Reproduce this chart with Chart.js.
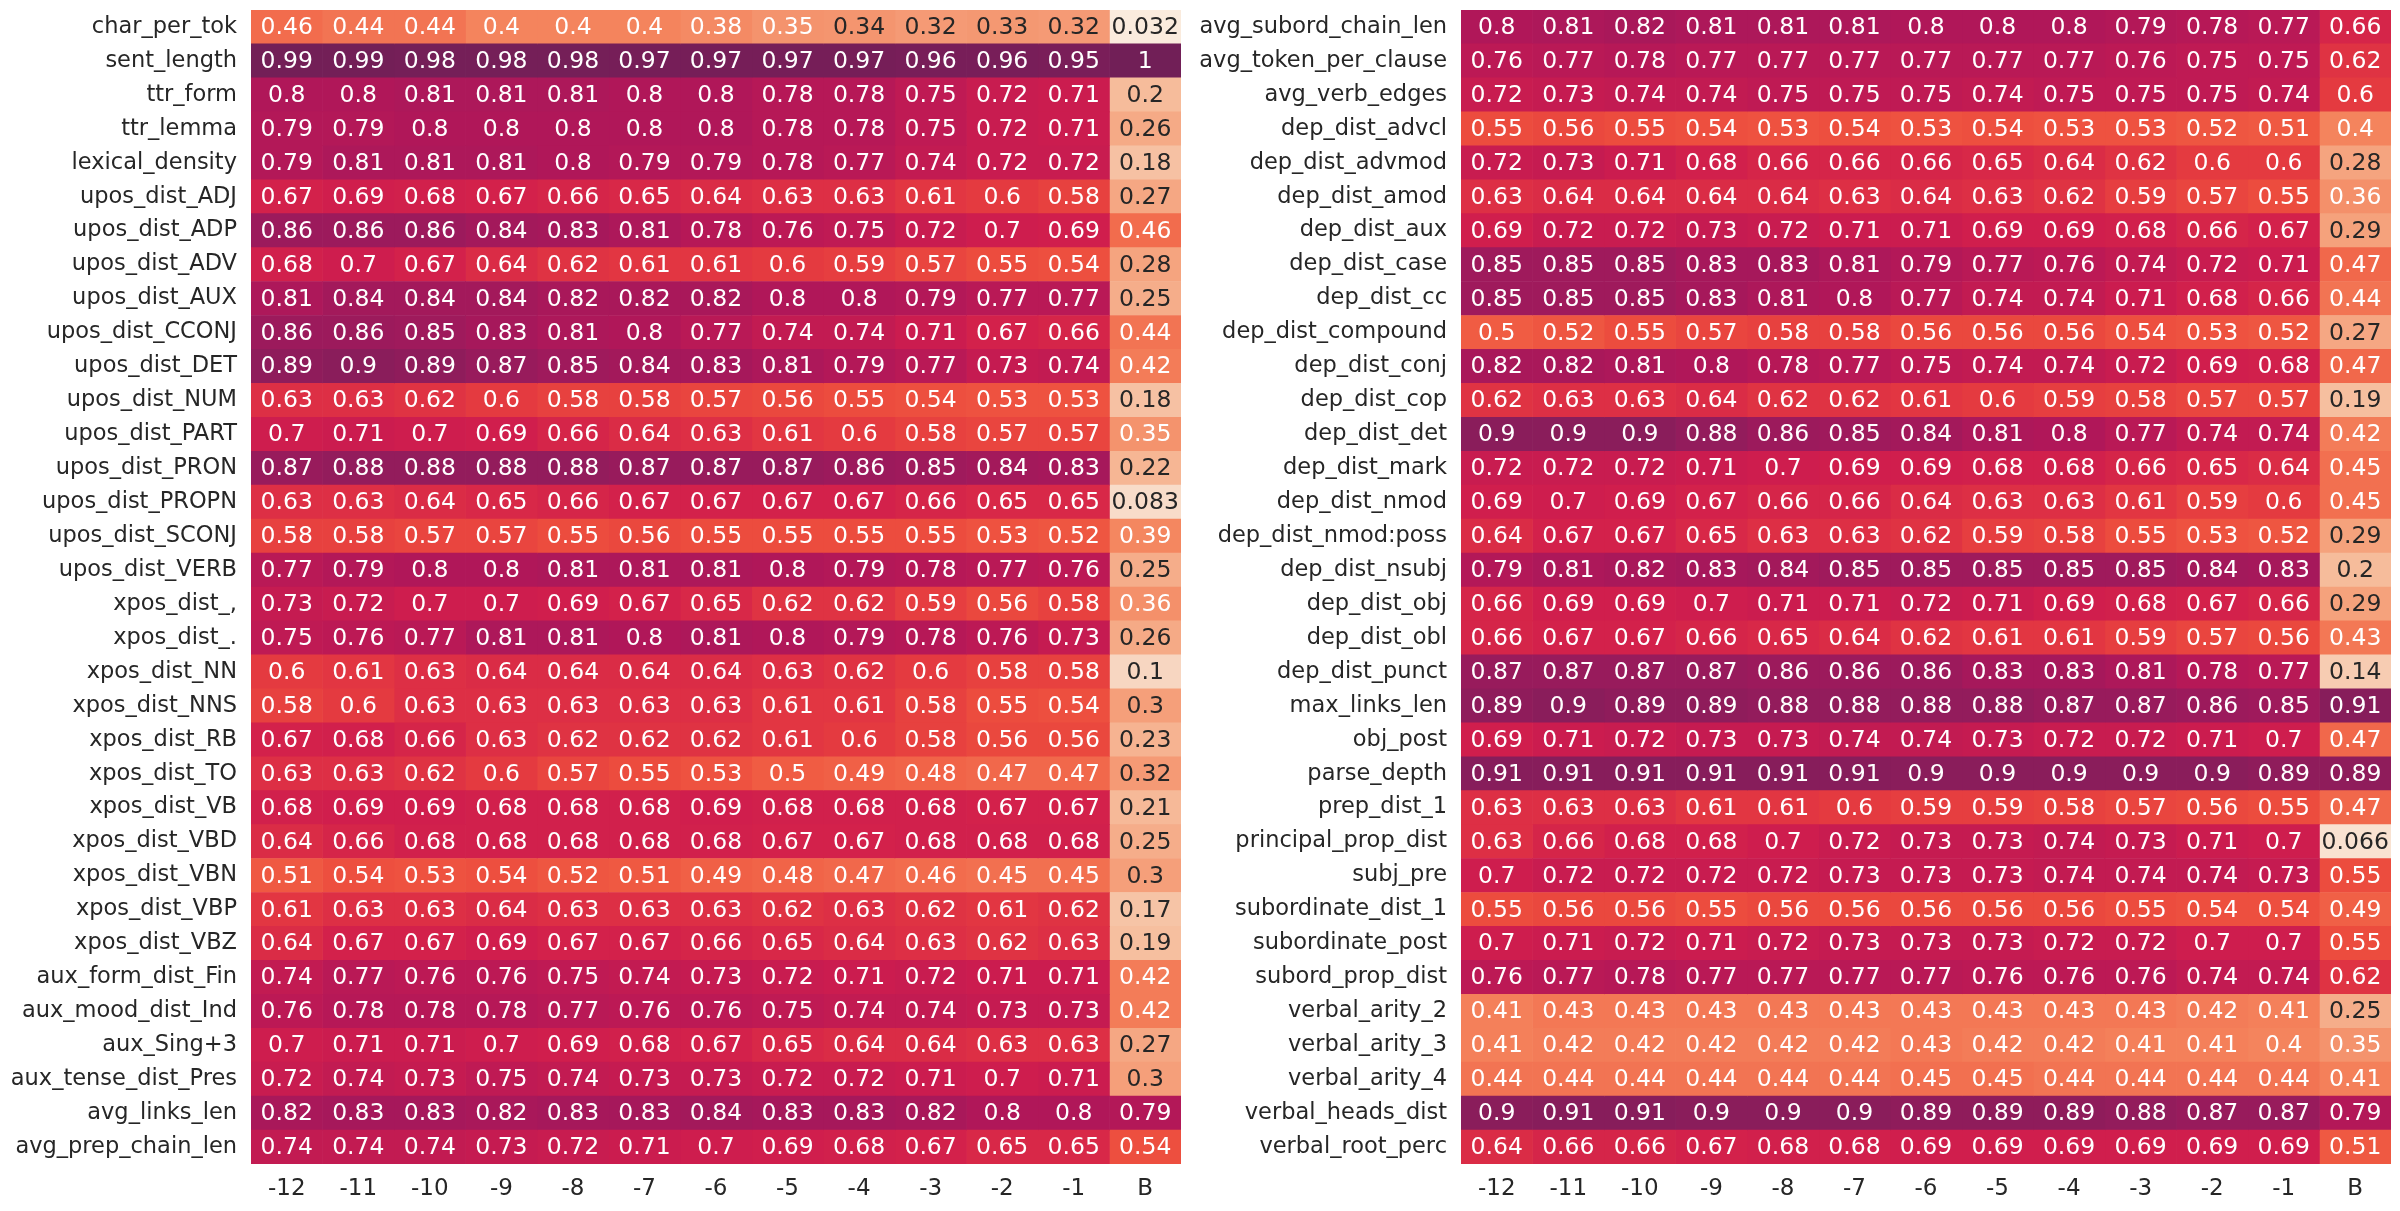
<!DOCTYPE html>
<html>
<head>
<meta charset="utf-8">
<script src="https://cdn.jsdelivr.net/npm/chart.js@4.4.0/dist/chart.umd.min.js"></script>
<style>
  html, body { margin: 0; padding: 0; background: #ffffff; }
  #wrap { position: relative; width: 2400px; height: 1211px; }
  canvas { position: absolute; top: 0; }
</style>
</head>
<body>
<div id="wrap">
  <canvas id="heatLeft" width="1200" height="1211" style="left:0px"></canvas>
  <canvas id="heatRight" width="1200" height="1211" style="left:1200px"></canvas>
</div>
<script>
// column labels (layer offsets and baseline)
const columns = ['-12', '-11', '-10', '-9', '-8', '-7', '-6', '-5', '-4', '-3', '-2', '-1', 'B'];

const leftFeatures = [
  'char_per_tok', 'sent_length', 'ttr_form', 'ttr_lemma', 'lexical_density',
  'upos_dist_ADJ', 'upos_dist_ADP', 'upos_dist_ADV', 'upos_dist_AUX', 'upos_dist_CCONJ',
  'upos_dist_DET', 'upos_dist_NUM', 'upos_dist_PART', 'upos_dist_PRON', 'upos_dist_PROPN',
  'upos_dist_SCONJ', 'upos_dist_VERB', 'xpos_dist_,', 'xpos_dist_.', 'xpos_dist_NN',
  'xpos_dist_NNS', 'xpos_dist_RB', 'xpos_dist_TO', 'xpos_dist_VB', 'xpos_dist_VBD',
  'xpos_dist_VBN', 'xpos_dist_VBP', 'xpos_dist_VBZ', 'aux_form_dist_Fin', 'aux_mood_dist_Ind',
  'aux_Sing+3', 'aux_tense_dist_Pres', 'avg_links_len', 'avg_prep_chain_len'
];

const leftValues = [
  [0.46, 0.44, 0.44, 0.4, 0.4, 0.4, 0.38, 0.35, 0.34, 0.32, 0.33, 0.32, 0.032],
  [0.99, 0.99, 0.98, 0.98, 0.98, 0.97, 0.97, 0.97, 0.97, 0.96, 0.96, 0.95, 1],
  [0.8, 0.8, 0.81, 0.81, 0.81, 0.8, 0.8, 0.78, 0.78, 0.75, 0.72, 0.71, 0.2],
  [0.79, 0.79, 0.8, 0.8, 0.8, 0.8, 0.8, 0.78, 0.78, 0.75, 0.72, 0.71, 0.26],
  [0.79, 0.81, 0.81, 0.81, 0.8, 0.79, 0.79, 0.78, 0.77, 0.74, 0.72, 0.72, 0.18],
  [0.67, 0.69, 0.68, 0.67, 0.66, 0.65, 0.64, 0.63, 0.63, 0.61, 0.6, 0.58, 0.27],
  [0.86, 0.86, 0.86, 0.84, 0.83, 0.81, 0.78, 0.76, 0.75, 0.72, 0.7, 0.69, 0.46],
  [0.68, 0.7, 0.67, 0.64, 0.62, 0.61, 0.61, 0.6, 0.59, 0.57, 0.55, 0.54, 0.28],
  [0.81, 0.84, 0.84, 0.84, 0.82, 0.82, 0.82, 0.8, 0.8, 0.79, 0.77, 0.77, 0.25],
  [0.86, 0.86, 0.85, 0.83, 0.81, 0.8, 0.77, 0.74, 0.74, 0.71, 0.67, 0.66, 0.44],
  [0.89, 0.9, 0.89, 0.87, 0.85, 0.84, 0.83, 0.81, 0.79, 0.77, 0.73, 0.74, 0.42],
  [0.63, 0.63, 0.62, 0.6, 0.58, 0.58, 0.57, 0.56, 0.55, 0.54, 0.53, 0.53, 0.18],
  [0.7, 0.71, 0.7, 0.69, 0.66, 0.64, 0.63, 0.61, 0.6, 0.58, 0.57, 0.57, 0.35],
  [0.87, 0.88, 0.88, 0.88, 0.88, 0.87, 0.87, 0.87, 0.86, 0.85, 0.84, 0.83, 0.22],
  [0.63, 0.63, 0.64, 0.65, 0.66, 0.67, 0.67, 0.67, 0.67, 0.66, 0.65, 0.65, 0.083],
  [0.58, 0.58, 0.57, 0.57, 0.55, 0.56, 0.55, 0.55, 0.55, 0.55, 0.53, 0.52, 0.39],
  [0.77, 0.79, 0.8, 0.8, 0.81, 0.81, 0.81, 0.8, 0.79, 0.78, 0.77, 0.76, 0.25],
  [0.73, 0.72, 0.7, 0.7, 0.69, 0.67, 0.65, 0.62, 0.62, 0.59, 0.56, 0.58, 0.36],
  [0.75, 0.76, 0.77, 0.81, 0.81, 0.8, 0.81, 0.8, 0.79, 0.78, 0.76, 0.73, 0.26],
  [0.6, 0.61, 0.63, 0.64, 0.64, 0.64, 0.64, 0.63, 0.62, 0.6, 0.58, 0.58, 0.1],
  [0.58, 0.6, 0.63, 0.63, 0.63, 0.63, 0.63, 0.61, 0.61, 0.58, 0.55, 0.54, 0.3],
  [0.67, 0.68, 0.66, 0.63, 0.62, 0.62, 0.62, 0.61, 0.6, 0.58, 0.56, 0.56, 0.23],
  [0.63, 0.63, 0.62, 0.6, 0.57, 0.55, 0.53, 0.5, 0.49, 0.48, 0.47, 0.47, 0.32],
  [0.68, 0.69, 0.69, 0.68, 0.68, 0.68, 0.69, 0.68, 0.68, 0.68, 0.67, 0.67, 0.21],
  [0.64, 0.66, 0.68, 0.68, 0.68, 0.68, 0.68, 0.67, 0.67, 0.68, 0.68, 0.68, 0.25],
  [0.51, 0.54, 0.53, 0.54, 0.52, 0.51, 0.49, 0.48, 0.47, 0.46, 0.45, 0.45, 0.3],
  [0.61, 0.63, 0.63, 0.64, 0.63, 0.63, 0.63, 0.62, 0.63, 0.62, 0.61, 0.62, 0.17],
  [0.64, 0.67, 0.67, 0.69, 0.67, 0.67, 0.66, 0.65, 0.64, 0.63, 0.62, 0.63, 0.19],
  [0.74, 0.77, 0.76, 0.76, 0.75, 0.74, 0.73, 0.72, 0.71, 0.72, 0.71, 0.71, 0.42],
  [0.76, 0.78, 0.78, 0.78, 0.77, 0.76, 0.76, 0.75, 0.74, 0.74, 0.73, 0.73, 0.42],
  [0.7, 0.71, 0.71, 0.7, 0.69, 0.68, 0.67, 0.65, 0.64, 0.64, 0.63, 0.63, 0.27],
  [0.72, 0.74, 0.73, 0.75, 0.74, 0.73, 0.73, 0.72, 0.72, 0.71, 0.7, 0.71, 0.3],
  [0.82, 0.83, 0.83, 0.82, 0.83, 0.83, 0.84, 0.83, 0.83, 0.82, 0.8, 0.8, 0.79],
  [0.74, 0.74, 0.74, 0.73, 0.72, 0.71, 0.7, 0.69, 0.68, 0.67, 0.65, 0.65, 0.54]
];

const rightFeatures = [
  'avg_subord_chain_len', 'avg_token_per_clause', 'avg_verb_edges', 'dep_dist_advcl', 'dep_dist_advmod',
  'dep_dist_amod', 'dep_dist_aux', 'dep_dist_case', 'dep_dist_cc', 'dep_dist_compound',
  'dep_dist_conj', 'dep_dist_cop', 'dep_dist_det', 'dep_dist_mark', 'dep_dist_nmod',
  'dep_dist_nmod:poss', 'dep_dist_nsubj', 'dep_dist_obj', 'dep_dist_obl', 'dep_dist_punct',
  'max_links_len', 'obj_post', 'parse_depth', 'prep_dist_1', 'principal_prop_dist',
  'subj_pre', 'subordinate_dist_1', 'subordinate_post', 'subord_prop_dist', 'verbal_arity_2',
  'verbal_arity_3', 'verbal_arity_4', 'verbal_heads_dist', 'verbal_root_perc'
];

const rightValues = [
  [0.8, 0.81, 0.82, 0.81, 0.81, 0.81, 0.8, 0.8, 0.8, 0.79, 0.78, 0.77, 0.66],
  [0.76, 0.77, 0.78, 0.77, 0.77, 0.77, 0.77, 0.77, 0.77, 0.76, 0.75, 0.75, 0.62],
  [0.72, 0.73, 0.74, 0.74, 0.75, 0.75, 0.75, 0.74, 0.75, 0.75, 0.75, 0.74, 0.6],
  [0.55, 0.56, 0.55, 0.54, 0.53, 0.54, 0.53, 0.54, 0.53, 0.53, 0.52, 0.51, 0.4],
  [0.72, 0.73, 0.71, 0.68, 0.66, 0.66, 0.66, 0.65, 0.64, 0.62, 0.6, 0.6, 0.28],
  [0.63, 0.64, 0.64, 0.64, 0.64, 0.63, 0.64, 0.63, 0.62, 0.59, 0.57, 0.55, 0.36],
  [0.69, 0.72, 0.72, 0.73, 0.72, 0.71, 0.71, 0.69, 0.69, 0.68, 0.66, 0.67, 0.29],
  [0.85, 0.85, 0.85, 0.83, 0.83, 0.81, 0.79, 0.77, 0.76, 0.74, 0.72, 0.71, 0.47],
  [0.85, 0.85, 0.85, 0.83, 0.81, 0.8, 0.77, 0.74, 0.74, 0.71, 0.68, 0.66, 0.44],
  [0.5, 0.52, 0.55, 0.57, 0.58, 0.58, 0.56, 0.56, 0.56, 0.54, 0.53, 0.52, 0.27],
  [0.82, 0.82, 0.81, 0.8, 0.78, 0.77, 0.75, 0.74, 0.74, 0.72, 0.69, 0.68, 0.47],
  [0.62, 0.63, 0.63, 0.64, 0.62, 0.62, 0.61, 0.6, 0.59, 0.58, 0.57, 0.57, 0.19],
  [0.9, 0.9, 0.9, 0.88, 0.86, 0.85, 0.84, 0.81, 0.8, 0.77, 0.74, 0.74, 0.42],
  [0.72, 0.72, 0.72, 0.71, 0.7, 0.69, 0.69, 0.68, 0.68, 0.66, 0.65, 0.64, 0.45],
  [0.69, 0.7, 0.69, 0.67, 0.66, 0.66, 0.64, 0.63, 0.63, 0.61, 0.59, 0.6, 0.45],
  [0.64, 0.67, 0.67, 0.65, 0.63, 0.63, 0.62, 0.59, 0.58, 0.55, 0.53, 0.52, 0.29],
  [0.79, 0.81, 0.82, 0.83, 0.84, 0.85, 0.85, 0.85, 0.85, 0.85, 0.84, 0.83, 0.2],
  [0.66, 0.69, 0.69, 0.7, 0.71, 0.71, 0.72, 0.71, 0.69, 0.68, 0.67, 0.66, 0.29],
  [0.66, 0.67, 0.67, 0.66, 0.65, 0.64, 0.62, 0.61, 0.61, 0.59, 0.57, 0.56, 0.43],
  [0.87, 0.87, 0.87, 0.87, 0.86, 0.86, 0.86, 0.83, 0.83, 0.81, 0.78, 0.77, 0.14],
  [0.89, 0.9, 0.89, 0.89, 0.88, 0.88, 0.88, 0.88, 0.87, 0.87, 0.86, 0.85, 0.91],
  [0.69, 0.71, 0.72, 0.73, 0.73, 0.74, 0.74, 0.73, 0.72, 0.72, 0.71, 0.7, 0.47],
  [0.91, 0.91, 0.91, 0.91, 0.91, 0.91, 0.9, 0.9, 0.9, 0.9, 0.9, 0.89, 0.89],
  [0.63, 0.63, 0.63, 0.61, 0.61, 0.6, 0.59, 0.59, 0.58, 0.57, 0.56, 0.55, 0.47],
  [0.63, 0.66, 0.68, 0.68, 0.7, 0.72, 0.73, 0.73, 0.74, 0.73, 0.71, 0.7, 0.066],
  [0.7, 0.72, 0.72, 0.72, 0.72, 0.73, 0.73, 0.73, 0.74, 0.74, 0.74, 0.73, 0.55],
  [0.55, 0.56, 0.56, 0.55, 0.56, 0.56, 0.56, 0.56, 0.56, 0.55, 0.54, 0.54, 0.49],
  [0.7, 0.71, 0.72, 0.71, 0.72, 0.73, 0.73, 0.73, 0.72, 0.72, 0.7, 0.7, 0.55],
  [0.76, 0.77, 0.78, 0.77, 0.77, 0.77, 0.77, 0.76, 0.76, 0.76, 0.74, 0.74, 0.62],
  [0.41, 0.43, 0.43, 0.43, 0.43, 0.43, 0.43, 0.43, 0.43, 0.43, 0.42, 0.41, 0.25],
  [0.41, 0.42, 0.42, 0.42, 0.42, 0.42, 0.43, 0.42, 0.42, 0.41, 0.41, 0.4, 0.35],
  [0.44, 0.44, 0.44, 0.44, 0.44, 0.44, 0.45, 0.45, 0.44, 0.44, 0.44, 0.44, 0.41],
  [0.9, 0.91, 0.91, 0.9, 0.9, 0.9, 0.89, 0.89, 0.89, 0.88, 0.87, 0.87, 0.79],
  [0.64, 0.66, 0.66, 0.67, 0.68, 0.68, 0.69, 0.69, 0.69, 0.69, 0.69, 0.69, 0.51]
];

// colour ramp (light = low, dark purple = high)
const rampStops = [
  [0.032, '#FAEBDD'], [0.066, '#F9E2D1'], [0.1, '#F7D6C1'], [0.2, '#F6BC9B'],
  [0.28, '#F5A47F'], [0.36, '#F4906A'], [0.4, '#F4845D'], [0.5, '#F05C43'],
  [0.55, '#EC4C3E'], [0.6, '#E43A40'], [0.67, '#D3214B'], [0.7, '#CE1D4E'],
  [0.8, '#B01759'], [0.86, '#9C1A5C'], [0.9, '#8A1D5B'], [0.95, '#7A1E59'],
  [1.0, '#711F57']
];

function hexToRgb(h) {
  return [parseInt(h.slice(1, 3), 16), parseInt(h.slice(3, 5), 16), parseInt(h.slice(5, 7), 16)];
}

function cellColor(v) {
  if (v <= rampStops[0][0]) return rampStops[0][1];
  for (let i = 1; i < rampStops.length; i++) {
    const [v1, c1] = rampStops[i];
    if (v <= v1) {
      const [v0, c0] = rampStops[i - 1];
      const t = (v - v0) / (v1 - v0);
      const a = hexToRgb(c0), b = hexToRgb(c1);
      const rgb = a.map((x, k) => Math.round(x + (b[k] - x) * t));
      return `rgb(${rgb[0]}, ${rgb[1]}, ${rgb[2]})`;
    }
  }
  return rampStops[rampStops.length - 1][1];
}

const FONT = 'DejaVu Sans';
const TEXT_DARK = '#262626';

// writes the value inside each cell
const cellLabels = {
  id: 'cellLabels',
  afterDatasetsDraw(chart) {
    const ctx = chart.ctx;
    ctx.save();
    ctx.font = `23.5px "${FONT}"`;
    ctx.textAlign = 'center';
    ctx.textBaseline = 'middle';
    chart.data.datasets.forEach((ds, c) => {
      chart.getDatasetMeta(c).data.forEach((bar, r) => {
        const v = ds.values[r];
        ctx.fillStyle = v < 0.345 ? TEXT_DARK : '#ffffff';
        ctx.fillText(String(v), (bar.x + bar.base) / 2, bar.y + 1);
      });
    });
    ctx.restore();
  }
};

function makeHeatmap(canvasId, features, values, yWidth, rightPad) {
  const datasets = columns.map((col, c) => ({
    label: col,
    data: features.map(() => 1),
    values: values.map(row => row[c]),
    backgroundColor: values.map(row => cellColor(row[c])),
    borderWidth: 0,
    barPercentage: 1,
    categoryPercentage: 1
  }));

  const ctx = document.getElementById(canvasId).getContext('2d');
  return new Chart(ctx, {
    type: 'bar',
    data: { labels: features, datasets: datasets },
    options: {
      indexAxis: 'y',
      responsive: false,
      animation: false,
      devicePixelRatio: 1,
      layout: { padding: { top: 10, right: rightPad, left: 0, bottom: 0 } },
      plugins: {
        legend: { display: false },
        tooltip: { enabled: false }
      },
      scales: {
        x: { type: 'linear', stacked: true, min: 0, max: columns.length, display: false },
        cols: {
          type: 'category',
          labels: columns,
          position: 'bottom',
          offset: true,
          grid: { display: false, drawTicks: false },
          border: { display: false },
          ticks: { color: TEXT_DARK, font: { family: FONT, size: 23 }, padding: 11, maxRotation: 0, autoSkip: false },
          afterFit(scale) {
            scale.height = 47;
            scale.paddingLeft = 0;
            scale.paddingRight = 0;
          }
        },
        y: {
          type: 'category',
          stacked: true,
          grid: { display: false, drawTicks: false },
          border: { display: false },
          ticks: { color: TEXT_DARK, font: { family: FONT, size: 22.5 }, padding: 14, autoSkip: false },
          afterFit(scale) {
            scale.width = yWidth;
            scale.paddingTop = 0;
            scale.paddingBottom = 0;
          }
        }
      }
    },
    plugins: [cellLabels]
  });
}

makeHeatmap('heatLeft', leftFeatures, leftValues, 251, 19);
makeHeatmap('heatRight', rightFeatures, rightValues, 261, 9);
</script>
</body>
</html>
